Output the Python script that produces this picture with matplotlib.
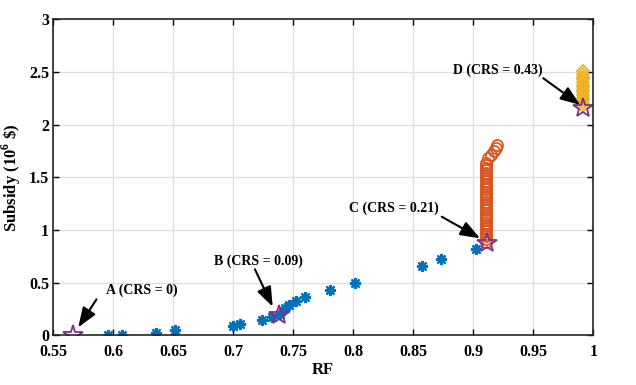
import matplotlib
matplotlib.use("Agg")
import matplotlib.pyplot as plt

# blue asterisks (RF, subsidy in 1e6 $)
rf_pts = [0.5953, 0.607, 0.6356, 0.651, 0.700, 0.7056, 0.724, 0.732, 0.739,
          0.743, 0.746, 0.752, 0.7597, 0.7806, 0.8014, 0.8575, 0.873, 0.902]
sub_pts = [0.003, 0.003, 0.025, 0.05, 0.088, 0.107, 0.145, 0.17, 0.20,
           0.256, 0.288, 0.33, 0.366, 0.43, 0.50, 0.658, 0.725, 0.817]

# orange circles (CRS = 0.21 branch)
rf_c = [0.9108] * 31 + [0.9125, 0.9145, 0.917, 0.919, 0.9195]
sub_c = [0.89, 0.915, 0.94, 0.965, 0.99, 1.015, 1.04, 1.065, 1.09, 1.115,
         1.14, 1.165, 1.19, 1.215, 1.24, 1.265, 1.29, 1.315, 1.34, 1.365,
         1.39, 1.415, 1.44, 1.465, 1.49, 1.515, 1.54, 1.565, 1.59, 1.615,
         1.64, 1.68, 1.71, 1.75, 1.78, 1.81]

# yellow diamonds (CRS = 0.43 branch)
rf_d = [0.9917] * 14
sub_d = [2.18, 2.205, 2.23, 2.255, 2.28, 2.305, 2.33, 2.355, 2.38, 2.405,
         2.43, 2.455, 2.48, 2.51]

# highlighted points A-D
star_rf = [0.5667, 0.7383, 0.9112, 0.9917]
star_sub = [0.003, 0.193, 0.88, 2.156]
labels = ["A (CRS = 0)", "B (CRS = 0.09)", "C (CRS = 0.21)", "D (CRS = 0.43)"]
text_xy = [(0.6236, 0.43), (0.7208, 0.70), (0.8339, 1.206), (0.9203, 2.52)]
tail_xy = [(0.586, 0.342), (0.718, 0.627), (0.8737, 1.126), (0.9583, 2.44)]
head_xy = [(0.5708, 0.076), (0.7328, 0.272), (0.9056, 0.921), (0.989, 2.187)]

plt.rcParams["font.family"] = ["Liberation Serif", "DejaVu Serif"]
plt.rcParams["font.weight"] = "bold"
plt.rcParams["mathtext.fontset"] = "custom"
plt.rcParams["mathtext.bf"] = "Liberation Serif:bold"
plt.rcParams["mathtext.rm"] = "Liberation Serif:bold"

fig = plt.figure(figsize=(6.36, 3.85), dpi=100)
ax = fig.add_axes([0.0838, 0.129, 0.8491, 0.821])

ax.plot(rf_c, sub_c, linestyle="none", marker="o", markersize=8,
        markerfacecolor="none", markeredgecolor="#D95319", markeredgewidth=1.2)
ax.plot(rf_d, sub_d, linestyle="none", marker="D", markersize=6.5,
        markerfacecolor="none", markeredgecolor="#EDB120", markeredgewidth=1.2)
ax.plot(rf_pts, sub_pts, linestyle="none", marker=(8, 2, 0), markersize=8,
        markeredgecolor="#0072BD", markeredgewidth=1.6)
ax.plot(star_rf, star_sub, linestyle="none", marker="*", markersize=15,
        markerfacecolor="none", markeredgecolor="#7E2F8E", markeredgewidth=1.3)

for lab, txy, tail, head in zip(labels, text_xy, tail_xy, head_xy):
    ax.text(txy[0], txy[1], lab, ha="center", va="center", fontsize=10,
            fontweight="bold")
    ax.annotate("", xy=head, xytext=tail,
                arrowprops=dict(arrowstyle="-|>,head_length=1.2,head_width=0.45",
                                color="black", lw=1.5, shrinkA=0, shrinkB=0))

ax.set_xlim(0.55, 1.0)
ax.set_ylim(0, 3)
ax.set_xticks([0.55, 0.6, 0.65, 0.7, 0.75, 0.8, 0.85, 0.9, 0.95, 1.0])
ax.set_xticklabels(["0.55", "0.6", "0.65", "0.7", "0.75", "0.8", "0.85",
                    "0.9", "0.95", "1"])
ax.set_yticks([0, 0.5, 1, 1.5, 2, 2.5, 3])
ax.set_yticklabels(["0", "0.5", "1", "1.5", "2", "2.5", "3"])
ax.tick_params(direction="in", top=True, right=True, labelsize=11.5,
               length=4, width=1)
ax.tick_params(axis="x", pad=6)
ax.tick_params(axis="y", pad=3)
ax.grid(True, color="#dedede", linewidth=0.9)
ax.set_axisbelow(True)
for s in ax.spines.values():
    s.set_linewidth(1.2)
    s.set_color("#262626")

ax.set_xlabel("RF", fontsize=12, fontweight="bold", labelpad=2)
ax.set_ylabel(r"Subsidy (10$^{\mathbf{6}}$ \$)", fontsize=12,
              fontweight="bold", labelpad=4)

fig.savefig("out.png", dpi=100)
